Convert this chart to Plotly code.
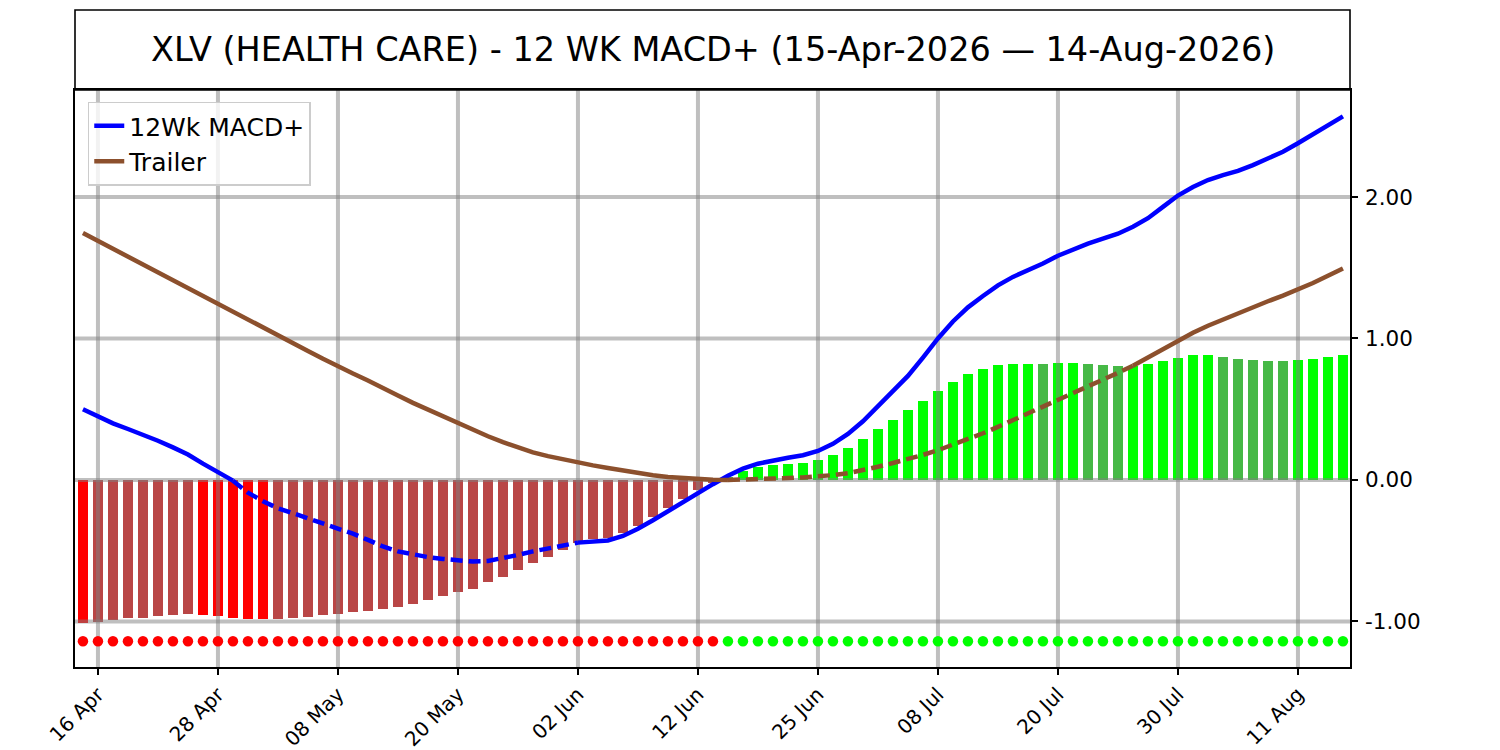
import plotly.graph_objects as go

## 12 week MACD+ for XLV, one point per trading day (15-Apr-2026 .. 14-Aug-2026)
## x axis is the trading day index, every 8th session gets a date label
tick_pos = [1, 9, 17, 25, 33, 41, 49, 57, 65, 73, 81]
tick_labels = ["16 Apr", "28 Apr", "08 May", "20 May", "02 Jun", "12 Jun",
               "25 Jun", "08 Jul", "20 Jul", "30 Jul", "11 Aug"]
y_ticks = [-1, 0, 1, 2]
y_tick_labels = ["-1.00", "0.00", "1.00", "2.00"]

macd = [0.50, 0.45, 0.40, 0.36, 0.32, 0.277, 0.23, 0.18, 0.115, 0.055,
        -0.005, -0.09, -0.15, -0.20, -0.235, -0.27, -0.305, -0.34, -0.38, -0.424,
        -0.47, -0.505, -0.527, -0.545, -0.558, -0.568, -0.577, -0.573, -0.555, -0.53,
        -0.505, -0.482, -0.46, -0.443, -0.437, -0.428, -0.396, -0.345, -0.285, -0.22,
        -0.155, -0.09, -0.03, 0.03, 0.08, 0.115, 0.14, 0.157, 0.175, 0.205,
        0.255, 0.325, 0.415, 0.52, 0.625, 0.735, 0.865, 1.0, 1.12, 1.22,
        1.30, 1.375, 1.435, 1.48, 1.53, 1.585, 1.63, 1.67, 1.705, 1.74,
        1.79, 1.85, 1.93, 2.01, 2.07, 2.12, 2.155, 2.185, 2.225, 2.27,
        2.32, 2.38, 2.445, 2.51, 2.57]

trailer = [1.745, 1.69, 1.635, 1.58, 1.525, 1.47, 1.415, 1.36, 1.305, 1.25,
           1.193, 1.137, 1.08, 1.024, 0.968, 0.912, 0.856, 0.80, 0.752, 0.703,
           0.654, 0.597, 0.545, 0.497, 0.447, 0.397, 0.352, 0.309, 0.267, 0.228,
           0.195, 0.168, 0.144, 0.123, 0.103, 0.084, 0.065, 0.048, 0.033, 0.021,
           0.012, 0.005, 0.001, 0.0, 0.002, 0.005, 0.009, 0.013, 0.018, 0.024,
           0.034, 0.048, 0.068, 0.093, 0.12, 0.147, 0.177, 0.21, 0.248, 0.288,
           0.33, 0.375, 0.422, 0.47, 0.518, 0.565, 0.612, 0.66, 0.708, 0.757,
           0.807, 0.865, 0.925, 0.985, 1.04, 1.09, 1.135, 1.18, 1.222, 1.263,
           1.303, 1.344, 1.392, 1.443, 1.495]

hist = [-1.013, -1.006, -0.99, -0.978, -0.973, -0.96, -0.952, -0.945, -0.952, -0.959,
        -0.973, -0.98, -0.986, -0.984, -0.975, -0.966, -0.955, -0.945, -0.933, -0.925,
        -0.915, -0.895, -0.874, -0.846, -0.817, -0.794, -0.768, -0.723, -0.683, -0.634,
        -0.584, -0.542, -0.492, -0.448, -0.42, -0.408, -0.372, -0.323, -0.259, -0.196,
        -0.132, -0.071, -0.024, 0.023, 0.066, 0.09, 0.106, 0.113, 0.12, 0.141,
        0.177, 0.226, 0.29, 0.36, 0.424, 0.495, 0.558, 0.629, 0.693, 0.751,
        0.784, 0.813, 0.82, 0.822, 0.82, 0.825, 0.826, 0.82, 0.813, 0.806,
        0.808, 0.82, 0.841, 0.862, 0.883, 0.885, 0.869, 0.855, 0.848, 0.841,
        0.84, 0.848, 0.855, 0.869, 0.883]

signal_level = -1.14

days = list(range(len(macd)))

## bright colour when the histogram grows in size, muted when it shrinks
bar_colors = []
for i, h in enumerate(hist):
    growing = i == 0 or abs(h) > abs(hist[i - 1])
    if h < 0:
        bar_colors.append("#ff0000" if growing else "#b94646")
    else:
        bar_colors.append("#00ff00" if growing else "#46b946")

## signal dots: red while MACD+ is under its trailer, green above it
dot_colors = ["#ff0000" if m < t else "#00ff00" for m, t in zip(macd, trailer)]

x_range = [-0.53, 84.47]
y_range = [-1.322, 2.756]
font = "DejaVu Sans"

fig = go.Figure()

fig.add_trace(go.Bar(x=days, y=hist, width=0.72, marker=dict(color=bar_colors, line=dict(width=0)),
                     showlegend=False, hoverinfo="skip"))

## grid drawn as a trace so it sits over the bars but under the lines
gx, gy = [], []
for t in tick_pos:
    gx += [t, t, None]
    gy += [y_range[0], y_range[1], None]
for t in y_ticks:
    gx += [x_range[0], x_range[1], None]
    gy += [t, t, None]
fig.add_trace(go.Scatter(x=gx, y=gy, mode="lines", line=dict(color="rgba(128,128,128,0.5)", width=4),
                         showlegend=False, hoverinfo="skip"))


def add_line(values, dash_from, dash_to, color, name):
    ## solid / dashed / solid pieces, the dashed part is where the line runs inside the bars
    pieces = [(0, dash_from, "solid", True),
              (dash_from, dash_to, "12px,6px", False),
              (dash_to, len(values) - 1, "solid", False)]
    for a, b, dash, legend in pieces:
        fig.add_trace(go.Scatter(x=days[a:b + 1], y=values[a:b + 1], mode="lines", name=name,
                                 line=dict(color=color, width=4.5, dash=dash),
                                 showlegend=legend, legendgroup=name))


add_line(macd, 10, 33, "#0000ff", "12Wk MACD+")
add_line(trailer, 43, 70, "#8c502d", "Trailer")

fig.add_trace(go.Scatter(x=days, y=[signal_level] * len(days), mode="markers",
                         marker=dict(color=dot_colors, size=10.5, line=dict(width=0)),
                         showlegend=False, hoverinfo="skip"))

## boxed title above the plot
fig.add_shape(type="rect", xref="paper", yref="paper", x0=0, x1=1, y0=1, y1=1 + 80 / 577,
              line=dict(color="black", width=1.6))
fig.add_annotation(text="XLV (HEALTH CARE) - 12 WK MACD+ (15-Apr-2026 \u2014 14-Aug-2026)",
                   xref="paper", yref="paper", x=0.5, y=1 + 40 / 577, showarrow=False,
                   font=dict(family=font, size=33.5, color="black"), xanchor="center", yanchor="middle")

## the page puts the figure 8px in from the top-left corner, so the canvas is
## made 8px smaller and the margins shifted to keep the plot where it belongs
fig.update_layout(
    width=1492, height=742,
    margin=dict(l=67, r=150, t=82, b=83, autoexpand=False),
    plot_bgcolor="white", paper_bgcolor="white",
    bargap=0,
    font=dict(family=font, color="black"),
    legend=dict(x=0.01, y=0.98, xanchor="left", yanchor="top",
                bgcolor="rgba(255,255,255,0.8)", bordercolor="#cccccc", borderwidth=1.5,
                font=dict(family=font, size=25, color="black"), tracegroupgap=0),
)
fig.update_xaxes(range=x_range, tickvals=tick_pos, ticktext=tick_labels, tickangle=-45,
                 automargin=False,
                 showgrid=False, zeroline=False, showline=True, mirror=True,
                 linecolor="black", linewidth=1.6, ticks="outside", ticklen=6, tickwidth=1.6,
                 tickcolor="black", tickfont=dict(family=font, size=20))
fig.update_yaxes(range=y_range, tickvals=y_ticks, ticktext=y_tick_labels, side="right",
                 automargin=False, ticklabelstandoff=3,
                 showgrid=False, zeroline=False, showline=True, mirror=True,
                 linecolor="black", linewidth=1.6, ticks="outside", ticklen=6, tickwidth=1.6,
                 tickcolor="black", tickfont=dict(family=font, size=21.5))

fig.write_html("out.html")
